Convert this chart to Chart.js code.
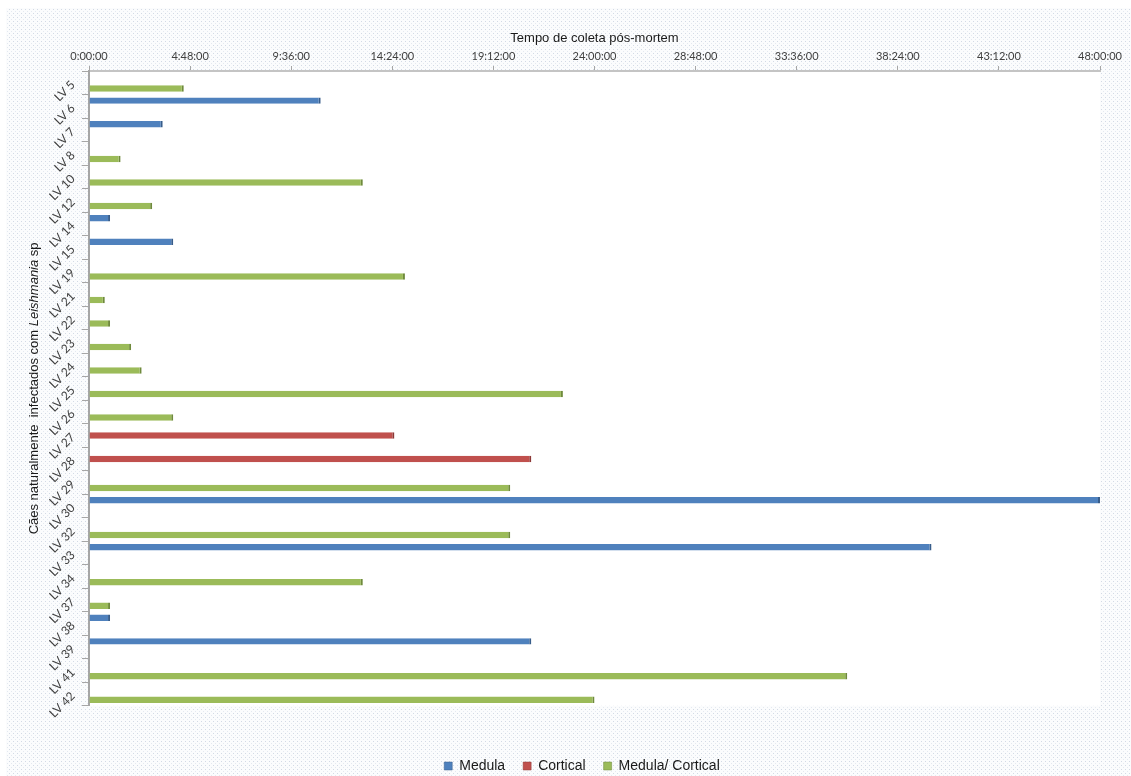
<!DOCTYPE html>
<html>
<head>
<meta charset="UTF-8">
<title>Tempo de coleta pós-mortem</title>
<style>
	html, body { margin: 0; padding: 0; background: #fff; }
	#wrap { width: 1131px; height: 776px; }
</style>
</head>
<body>
<div id="wrap"><canvas id="barChart"></canvas></div>
<script src="https://cdn.jsdelivr.net/npm/chart.js@4.4.0/dist/chart.umd.min.js"></script>
<script type="text/javascript">
// cães (de cima para baixo)
const caes = ['LV 5','LV 6','LV 7','LV 8','LV 10','LV 12','LV 14','LV 15','LV 19','LV 21','LV 22','LV 23','LV 24',
	'LV 25','LV 26','LV 27','LV 28','LV 29','LV 30','LV 32','LV 33','LV 34','LV 37','LV 38','LV 39','LV 41','LV 42'];

// tempo em horas, null = sem coleta nessa região
const medula = [null,11,3.5,null,null,null,1,4,null,null,null,null,null,
	null,null,null,null,null,48,null,40,null,null,1,21,null,null];
const cortical = [null,null,null,null,null,null,null,null,null,null,null,null,null,
	null,null,14.5,21,null,null,null,null,null,null,null,null,null,null];
const medulaCortical = [4.5,null,null,1.5,13,3,null,null,15,0.75,1,2,2.5,
	22.5,4,null,null,20,null,20,null,13,1,null,null,36,24];

const ticksHoras = ['0:00:00','4:48:00','9:36:00','14:24:00','19:12:00','24:00:00',
	'28:48:00','33:36:00','38:24:00','43:12:00','48:00:00'];

// fundo pontilhado + área do gráfico branca
function pontilhado(ctx) {
	let c = document.createElement('canvas');
	c.width = 4; c.height = 4;
	let p = c.getContext('2d');
	p.fillStyle = '#fbfcfd';
	p.fillRect(0, 0, 4, 4);
	p.fillStyle = '#d3dae5';
	p.fillRect(1, 1, 1, 1);
	p.fillStyle = '#e4e9f0';
	p.fillRect(3, 3, 1, 1);
	return ctx.createPattern(c, 'repeat');
}

const fundo = {
	id: 'fundo',
	afterLayout(chart) {
		// legenda um pouco à direita do centro
		chart.legend.left += 10;
		chart.legend.right += 10;
	},
	beforeDraw(chart) {
		const {ctx, chartArea: a, width, height} = chart;
		ctx.save();
		ctx.fillStyle = pontilhado(ctx);
		ctx.fillRect(6, 8, width - 6, height - 8);
		ctx.fillStyle = '#fff';
		ctx.fillRect(a.left, a.top, a.right - a.left, a.bottom - a.top);
		ctx.restore();
	}
};

// título do eixo y com o gênero em itálico
const tituloY = {
	id: 'tituloY',
	afterDraw(chart) {
		const {ctx, chartArea: a} = chart;
		const partes = [
			['Cães naturalmente  infectados com ', 'normal'],
			['Leishmania', 'italic'],
			[' sp', 'normal']
		];
		ctx.save();
		ctx.translate(34, (a.top + a.bottom) / 2);
		ctx.rotate(-Math.PI / 2);
		ctx.fillStyle = '#1a1a1a';
		ctx.textBaseline = 'middle';
		let total = 0;
		partes.forEach(function(p) {
			ctx.font = p[1] + ' 13px "Liberation Sans", Arial, sans-serif';
			total += ctx.measureText(p[0]).width;
		});
		let x = -total / 2;
		partes.forEach(function(p) {
			ctx.font = p[1] + ' 13px "Liberation Sans", Arial, sans-serif';
			ctx.fillText(p[0], x, 0);
			x += ctx.measureText(p[0]).width;
		});
		ctx.restore();
	}
};

const ctx = document.getElementById('barChart').getContext('2d');
const chart = new Chart(ctx, {
	type: 'bar',
	data: {
		labels: caes,
		datasets: [{
			label: 'Medula',
			data: medula,
			backgroundColor: '#4f81bd',
			borderColor: '#385d8a',
			borderWidth: {top: 0, right: 2, bottom: 0, left: 0}
		}, {
			label: 'Cortical',
			data: cortical,
			backgroundColor: '#c0504d',
			borderColor: '#8c3836',
			borderWidth: {top: 0, right: 2, bottom: 0, left: 0}
		}, {
			label: 'Medula/ Cortical',
			data: medulaCortical,
			backgroundColor: '#9bbb59',
			borderColor: '#6f8a3c',
			borderWidth: {top: 0, right: 2, bottom: 0, left: 0}
		}]
	},
	options: {
		indexAxis: 'y',
		responsive: true,
		maintainAspectRatio: false,
		animation: false,
		datasets: {
			bar: { categoryPercentage: 0.72, barPercentage: 1.15, borderSkipped: false }
		},
		layout: { padding: {left: 44, right: 31, top: 0, bottom: -7} },
		scales: {
			x: {
				position: 'top',
				min: 0,
				max: 48,
				afterFit: function(scale) { scale.height = 71; },
				afterBuildTicks: function(scale) {
					scale.ticks = ticksHoras.map(function(t, i) { return {value: i * 4.8}; });
				},
				ticks: {
					color: '#404040',
					padding: 3,
					maxRotation: 0,
					font: {family: 'Lato, "Liberation Sans", sans-serif', size: 11},
					callback: function(v, i) { return ticksHoras[i]; }
				},
				grid: { drawOnChartArea: false, color: '#a6a6a6', tickLength: 5 },
				border: { color: '#c4c4c4', width: 2 },
				title: {
					display: true,
					text: 'Tempo de coleta pós-mortem',
					color: '#1a1a1a',
					font: {family: '"Liberation Sans", Arial, sans-serif', size: 13},
					padding: {top: 31, bottom: 0}
				}
			},
			y: {
				afterFit: function(scale) { scale.width = 45; },
				ticks: {
					color: '#404040',
					padding: 9,
					minRotation: 45,
					maxRotation: 45,
					autoSkip: false,
					font: {family: 'Lato, "Liberation Sans", sans-serif', size: 12}
				},
				grid: { offset: true, drawOnChartArea: false, color: '#a6a6a6', tickLength: 7 },
				border: { color: '#a6a6a6', width: 2 }
			}
		},
		plugins: {
			legend: {
				position: 'bottom',
				title: { display: true, text: '', padding: {top: 34, bottom: 0}, font: {size: 1} },
				labels: {
					color: '#1a1a1a',
					boxWidth: 8,
					boxHeight: 8,
					padding: 18,
					font: {family: '"Liberation Sans", Arial, sans-serif', size: 14}
				}
			},
			tooltip: { enabled: false }
		}
	},
	plugins: [fundo, tituloY]
});
</script>
</body>
</html>
